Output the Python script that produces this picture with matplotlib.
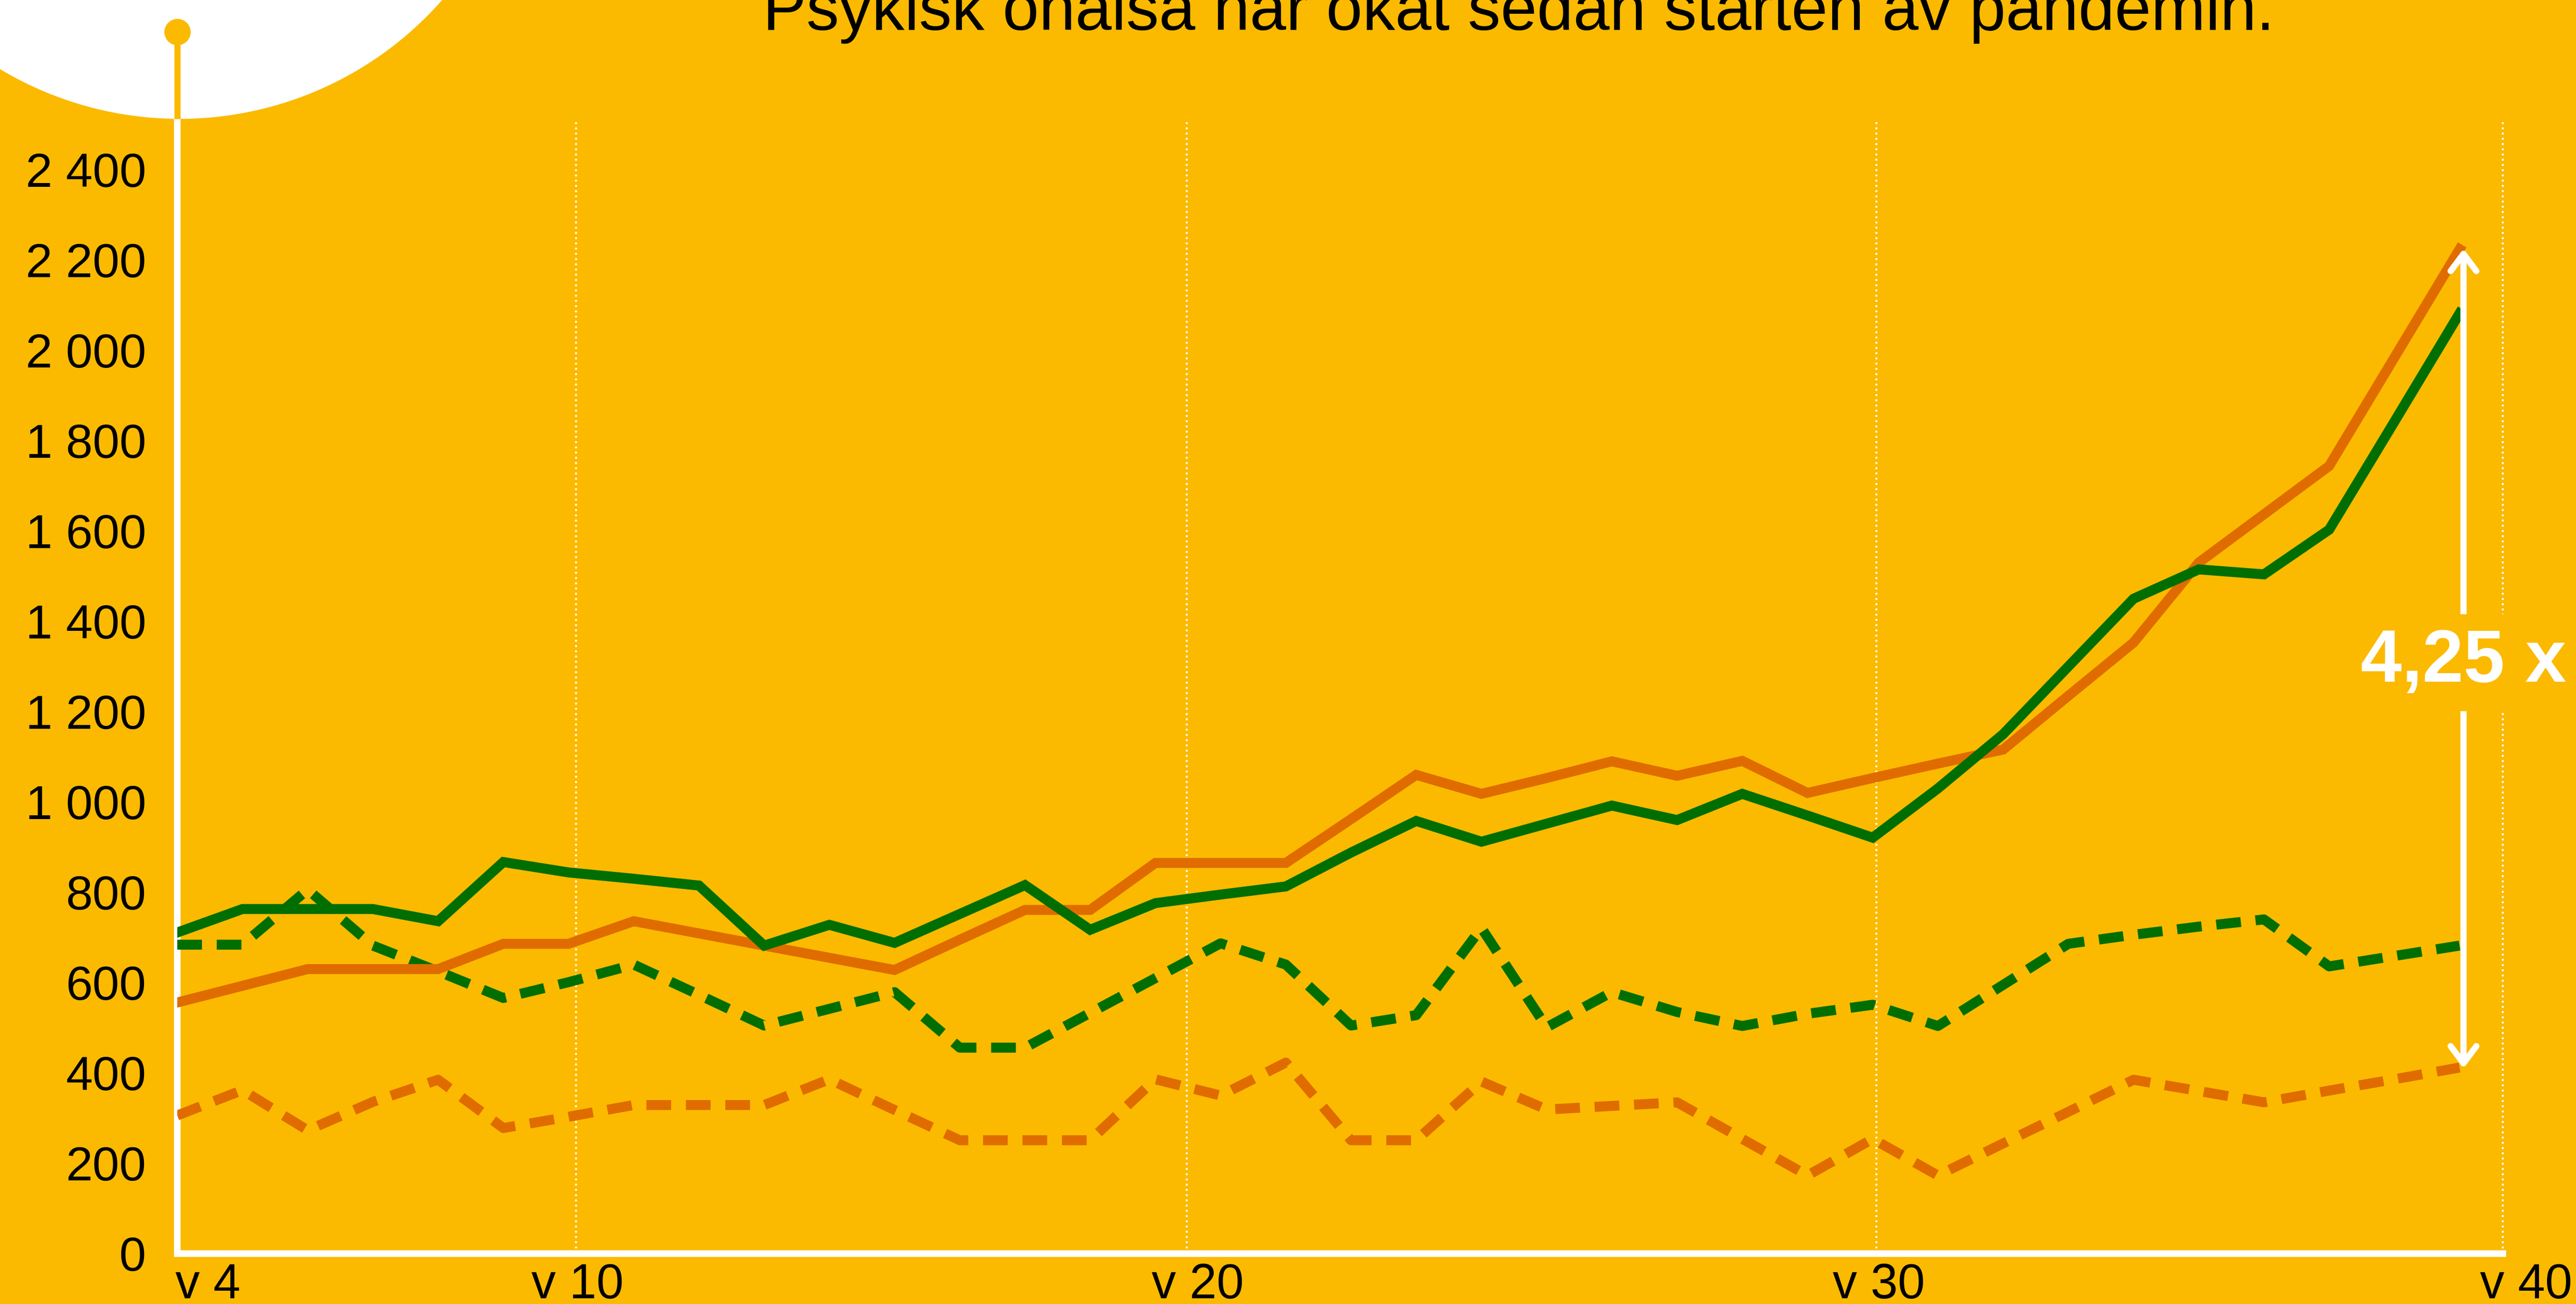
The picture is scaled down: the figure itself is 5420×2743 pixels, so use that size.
import numpy as np
import matplotlib
matplotlib.use("Agg")
import matplotlib.pyplot as plt
from matplotlib.patches import Ellipse, FancyArrowPatch
from matplotlib.transforms import blended_transform_factory

# ---------------- data ----------------
weeks = list(range(4, 40))
orange_solid = [556, 593, 630, 630, 630, 686, 686, 736, 709, 682, 655, 628, 695, 761, 761, 865, 865, 865,
                962, 1060, 1018, 1053, 1090, 1058, 1091, 1020, 1053, 1085, 1116, 1235, 1353, 1530, 1637,
                1744, 1984, 2224]
green_solid = [711, 763, 763, 763, 736, 867, 844, 830, 815, 682, 728, 688, 752, 816, 717, 776, 795, 813,
               888, 958, 912, 952, 992, 960, 1018, 970, 921, 1030, 1150, 1300, 1450, 1515, 1504, 1603,
               1842, 2082]
green_dashed = [684, 684, 806, 682, 625, 566, 601, 640, 573, 505, 542, 579, 456, 456, 533, 610, 687, 640,
                505, 528, 721, 501, 579, 535, 504, 531, 551, 504, 595, 686, 706, 724, 740, 636, 659, 682]
orange_dashed = [306, 362, 273, 336, 385, 278, 303, 329, 329, 329, 386, 318, 251, 251, 251, 386, 350, 423,
                 251, 251, 381, 319, 327, 335, 254, 173, 254, 173, 244, 314, 385, 360, 335, 361, 386, 412]

y_ticks = [0, 200, 400, 600, 800, 1000, 1200, 1400, 1600, 1800, 2000, 2200, 2400]
y_tick_labels = ["0", "200", "400", "600", "800", "1 000", "1 200", "1 400", "1 600", "1 800",
                 "2 000", "2 200", "2 400"]
x_label_pos = [4.47, 10.14, 19.65, 30.09, 40.02]
x_labels = ["v 4", "v 10", "v 20", "v 30", "v 40"]
grid_pos = [10.115, 19.48, 30.06, 39.66]
arrow_x = 39.06
arrow_from, arrow_to = 410, 2225
ratio_label = "4,25 x"
title = "Psykisk ohälsa har ökat sedan starten av pandemin."

# ---------------- style ----------------
BG = "#FBBA00"
ORANGE = "#E06C00"
GREEN = "#006E00"
W, H = 5420, 2743
DPI = 100
PX = 72 / DPI  # points per pixel

plt.rcParams["font.family"] = ["Liberation Sans", "DejaVu Sans"]

fig = plt.figure(figsize=(W / DPI, H / DPI), dpi=DPI, facecolor=BG)

# white circle top-left
circ = Ellipse((378 / W, 1 + 485 / H), 2 * 735 / W, 2 * 735 / H, transform=fig.transFigure,
               facecolor="white", edgecolor="none", zorder=-1)
fig.add_artist(circ)

ax = fig.add_axes([373 / W, 1 - 2637 / H, (5353.4 - 373) / W, (2637 - 250) / H])
ax.patch.set_visible(False)
ax.set_xlim(4, 40.3)
ax.set_ylim(0, 2512.6)

for s in ["top", "right"]:
    ax.spines[s].set_visible(False)
for s in ["left", "bottom"]:
    ax.spines[s].set_color("white")
    ax.spines[s].set_linewidth(14 * PX)
    ax.spines[s].set_capstyle("projecting")
ax.spines["bottom"].set_bounds(4, grid_pos[-1])

ax.set_yticks(y_ticks, y_tick_labels)
ax.set_xticks(x_label_pos, x_labels)
ax.tick_params(axis="y", length=0, pad=47, labelsize=73, labelcolor="black")
ax.tick_params(axis="x", length=0, pad=14, labelsize=74, labelcolor="black")

for g in grid_pos:
    ax.axvline(g, color="white", lw=4 * PX, linestyle=(0, (1, 1.75)), zorder=1)

lw = 21 * PX
dash = (52 / 21, 31 / 21)
ax.plot(weeks, orange_dashed, color=ORANGE, lw=lw, dashes=dash, zorder=3)
ax.plot(weeks, green_dashed, color=GREEN, lw=lw, dashes=dash, zorder=3)
ax.plot(weeks, orange_solid, color=ORANGE, lw=lw, solid_joinstyle="miter", zorder=3)
ax.plot(weeks, green_solid, color=GREEN, lw=lw, solid_joinstyle="miter", zorder=3)

# y-axis extension to dot
trans = blended_transform_factory(ax.transData, ax.transAxes)
ax.plot([4, 4], [1.0, 1.0767], color=BG, lw=13 * PX, transform=trans, clip_on=False,
        solid_capstyle="butt", zorder=5)
ax.plot([4], [1.0767], marker="o", ms=54 * PX, color=BG, mec=BG, transform=trans, clip_on=False, zorder=5)

# arrow + ratio label
arr = FancyArrowPatch((arrow_x, arrow_from), (arrow_x, arrow_to),
                      arrowstyle="<->,head_length=0.4,head_width=0.3", mutation_scale=65,
                      lw=13 * PX, color="white", shrinkA=0, shrinkB=0, zorder=4, clip_on=False)
ax.add_patch(arr)
ax.text(arrow_x, 1266, ratio_label, ha="center", va="baseline", fontsize=112, fontweight="bold",
        color="white", zorder=6,
        bbox=dict(boxstyle="square,pad=0.19", facecolor=BG, edgecolor="none"))

fig.text(3195 / W, 1 - 63 / H, title, ha="center", va="baseline", fontsize=99, color="black")

fig.savefig("out.png", dpi=DPI, facecolor=BG)
